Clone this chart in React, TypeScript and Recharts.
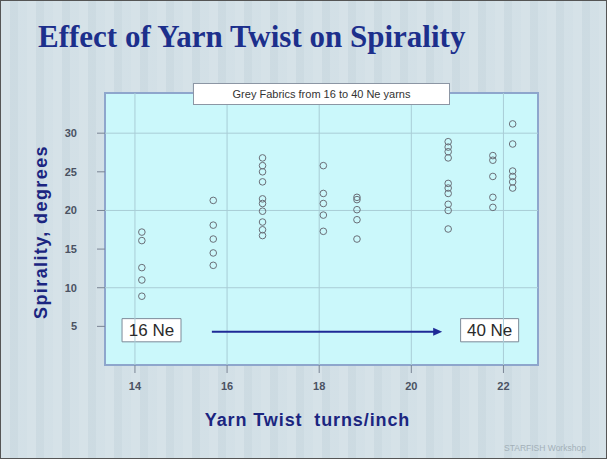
import {
  Label,
  ReferenceArea,
  ReferenceLine,
  Scatter,
  ScatterChart,
  XAxis,
  YAxis,
} from "recharts";

// twist levels (turns/inch), one per yarn count
const twistLevels = [14.15, 15.7, 16.77, 18.09, 18.82, 20.8, 21.77, 22.2];

// spirality (degrees) measured at each twist level
const spirality1 = [17.2, 16.1, 12.6, 11.0, 8.9];
const spirality2 = [21.3, 18.1, 16.3, 14.5, 12.9];
const spirality3 = [26.8, 25.8, 25.0, 23.7, 21.5, 20.9, 19.9, 18.5, 17.5, 16.75];
const spirality4 = [25.8, 22.2, 20.9, 19.4, 17.3];
const spirality5 = [21.7, 21.4, 20.1, 18.8, 16.3];
const spirality6 = [28.9, 28.2, 27.6, 26.8, 23.5, 22.9, 22.2, 20.8, 20.0, 17.6];
const spirality7 = [27.1, 26.5, 24.4, 21.7, 20.4];
const spirality8 = [31.2, 28.6, 25.1, 24.4, 23.7, 22.9];

const xDomain = [13.35, 22.75];
const yDomain = [0, 35.2];
const xTicks = [14, 16, 18, 20, 22];
const yTicks = [5, 10, 15, 20, 25, 30];
const yGrid = [10, 20, 30];

const groups = [
  spirality1,
  spirality2,
  spirality3,
  spirality4,
  spirality5,
  spirality6,
  spirality7,
  spirality8,
];

const points = groups.flatMap((vals, i) =>
  vals.map((v) => ({ twist: twistLevels[i], spirality: v }))
);

const NAVY = "#1b2580";
const GRID = "#a9cdd6";

function Ring(props: any) {
  const { cx, cy } = props;
  return <circle cx={cx} cy={cy} r={3.3} fill="none" stroke="#6a6f78" strokeWidth={1} />;
}

function Arrow(props: any) {
  const { x1, y1, x2, y2 } = props;
  return (
    <g>
      <line x1={x1} y1={y1} x2={x2 - 6} y2={y2} stroke="#1e2a96" strokeWidth={2} />
      <polygon
        points={`${x2},${y2} ${x2 - 9},${y2 - 4} ${x2 - 9},${y2 + 4}`}
        fill="#1e2a96"
      />
    </g>
  );
}

function YTitle(props: any) {
  const { x, y, height } = props.viewBox;
  const cx = x + 41;
  const cy = y + height / 2 + 3;
  return (
    <text
      x={cx}
      y={cy}
      transform={`rotate(-90, ${cx}, ${cy})`}
      textAnchor="middle"
      dominantBaseline="central"
      fontFamily="Arial, 'Liberation Sans', sans-serif"
      fontWeight="bold"
      fontSize={18}
      letterSpacing={1.4}
      fill={NAVY}
    >
      Spirality, degrees
    </text>
  );
}

function XTitle(props: any) {
  const { x, y, width } = props.viewBox;
  return (
    <text
      x={x + width / 2 - 14}
      y={y + 55}
      textAnchor="middle"
      dominantBaseline="central"
      fontFamily="Arial, 'Liberation Sans', sans-serif"
      fontWeight="bold"
      fontSize={18}
      letterSpacing={0.9}
      fill={NAVY}
      style={{ whiteSpace: "pre" }}
    >
      {"Yarn Twist  turns/inch"}
    </text>
  );
}

export default function App() {
  return (
    <div
      style={{
        position: "absolute",
        left: 0,
        top: 0,
        width: 607,
        height: 459,
        boxSizing: "border-box",
        border: "1px solid #555",
        background:
          "repeating-linear-gradient(90deg, rgba(255,255,255,0.12) 0 9px, rgba(120,140,150,0.04) 9px 17px, rgba(255,255,255,0.06) 17px 26px), #d0dee5",
        fontFamily: "Arial, 'Liberation Sans', sans-serif",
        overflow: "hidden",
      }}
    >
      <div
        style={{
          position: "absolute",
          left: 37,
          top: 18,
          fontFamily: "'Liberation Serif', 'Times New Roman', serif",
          fontWeight: "bold",
          fontSize: 31,
          color: "#1c2f8c",
          whiteSpace: "nowrap",
        }}
      >
        Effect of Yarn Twist on Spirality
      </div>
      <ScatterChart
        width={606}
        height={458}
        margin={{ top: 92, right: 69, bottom: 54, left: -1 }}
        style={{ position: "absolute", left: 0, top: 0 }}
      >
        <ReferenceArea
          x1={xDomain[0]}
          x2={xDomain[1]}
          y1={yDomain[0]}
          y2={yDomain[1]}
          fill="#cbf8fb"
          fillOpacity={1}
          stroke="#8ea6cc"
          strokeWidth={2}
        />
        {xTicks.map((v) => (
          <ReferenceLine key={`x${v}`} x={v} stroke={GRID} />
        ))}
        {yGrid.map((v) => (
          <ReferenceLine key={`y${v}`} y={v} stroke={GRID} />
        ))}
        <XAxis
          type="number"
          dataKey="twist"
          domain={xDomain}
          ticks={xTicks}
          axisLine={false}
          tickSize={8}
          tickMargin={9}
          tickLine={{ stroke: "#7a8494" }}
          tick={{ fontSize: 11, fontWeight: "bold", fill: "#4a5262" }}
          height={40}
        >
          <Label content={XTitle} />
        </XAxis>
        <YAxis
          type="number"
          dataKey="spirality"
          domain={yDomain}
          ticks={yTicks}
          axisLine={false}
          tickSize={8}
          tickMargin={20}
          tickLine={{ stroke: "#7a8494" }}
          tick={{ fontSize: 11, fontWeight: "bold", fill: "#4a5262" }}
          width={105}
        >
          <Label content={YTitle} />
        </YAxis>
        <ReferenceLine
          segment={[
            { x: 15.67, y: 4.3 },
            { x: 20.67, y: 4.3 },
          ]}
          shape={Arrow}
        />
        <ReferenceArea
          x1={13.72}
          x2={15.0}
          y1={3.0}
          y2={6.0}
          fill="#ffffff"
          fillOpacity={1}
          stroke="#7d8a98"
          label={{ value: "16 Ne", position: "center", fontSize: 17, fill: "#2a2a2a" }}
        />
        <ReferenceArea
          x1={21.07}
          x2={22.33}
          y1={3.0}
          y2={6.0}
          fill="#ffffff"
          fillOpacity={1}
          stroke="#7d8a98"
          label={{ value: "40 Ne", position: "center", fontSize: 17, fill: "#2a2a2a" }}
        />
        <Scatter data={points} isAnimationActive={false} shape={Ring} />
      </ScatterChart>
      <div
        style={{
          position: "absolute",
          left: 192,
          top: 82,
          width: 257,
          height: 22,
          boxSizing: "border-box",
          background: "#fff",
          border: "1px solid #8c96a4",
          fontSize: 11,
          color: "#333",
          textAlign: "center",
          lineHeight: "20px",
        }}
      >
        Grey Fabrics from 16 to 40 Ne yarns
      </div>
      <div
        style={{
          position: "absolute",
          left: 503,
          top: 442,
          fontSize: 8.5,
          color: "#a3b0b8",
          whiteSpace: "nowrap",
        }}
      >
        STARFISH Workshop
      </div>
    </div>
  );
}
